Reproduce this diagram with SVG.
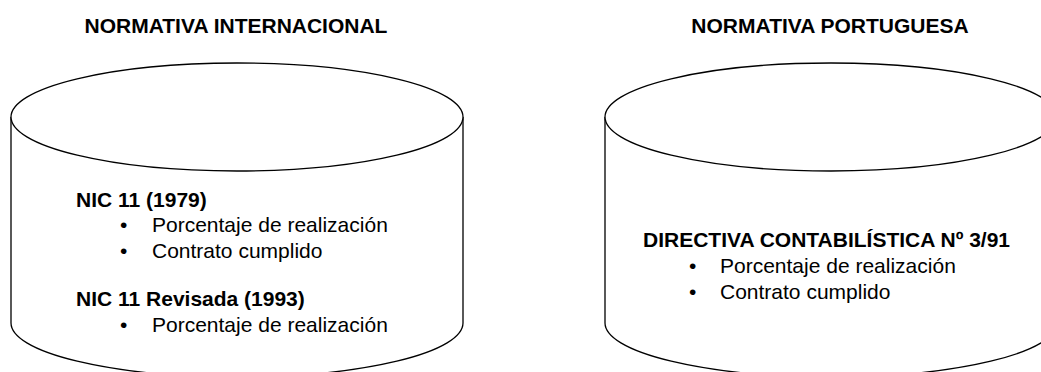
<svg xmlns="http://www.w3.org/2000/svg" width="1041" height="372" viewBox="0 0 1041 372">
<style>
.cyl{fill:#fff;stroke:#000;stroke-width:1.3}
text{font-family:"Liberation Sans",Arial,sans-serif;font-size:21px;fill:#000}
.b{font-weight:bold}
.t{font-weight:bold;text-anchor:middle}
</style>
<rect width="1041" height="372" fill="#fff"/>
<g id="title-int"><text class="t" x="236" y="33">NORMATIVA INTERNACIONAL</text></g>
<g id="title-pt"><text class="t" x="830" y="33">NORMATIVA PORTUGUESA</text></g>
<g id="cyl-int">
<path class="cyl" d="M11,117 L11,323 A226,54 0 0 0 463,323 L463,117"/>
<ellipse class="cyl" cx="237" cy="117" rx="226" ry="54"/>
<text class="b" x="76" y="207">NIC 11 (1979)</text>
<text x="120" y="232">•</text><text x="152" y="232">Porcentaje de realización</text>
<text x="120" y="258">•</text><text x="152" y="258">Contrato cumplido</text>
<text class="b" x="76" y="306">NIC 11 Revisada (1993)</text>
<text x="120" y="332">•</text><text x="152" y="332">Porcentaje de realización</text>
</g>
<g id="cyl-pt">
<path class="cyl" d="M605,117 L605,323 A226,54 0 0 0 1057,323 L1057,117"/>
<ellipse class="cyl" cx="831" cy="117" rx="226" ry="54"/>
<text class="b" x="643" y="247">DIRECTIVA CONTABILÍSTICA Nº 3/91</text>
<text x="689" y="273">•</text><text x="720" y="273">Porcentaje de realización</text>
<text x="689" y="299">•</text><text x="720" y="299">Contrato cumplido</text>
</g>
<g id="connectors"></g>
</svg>
